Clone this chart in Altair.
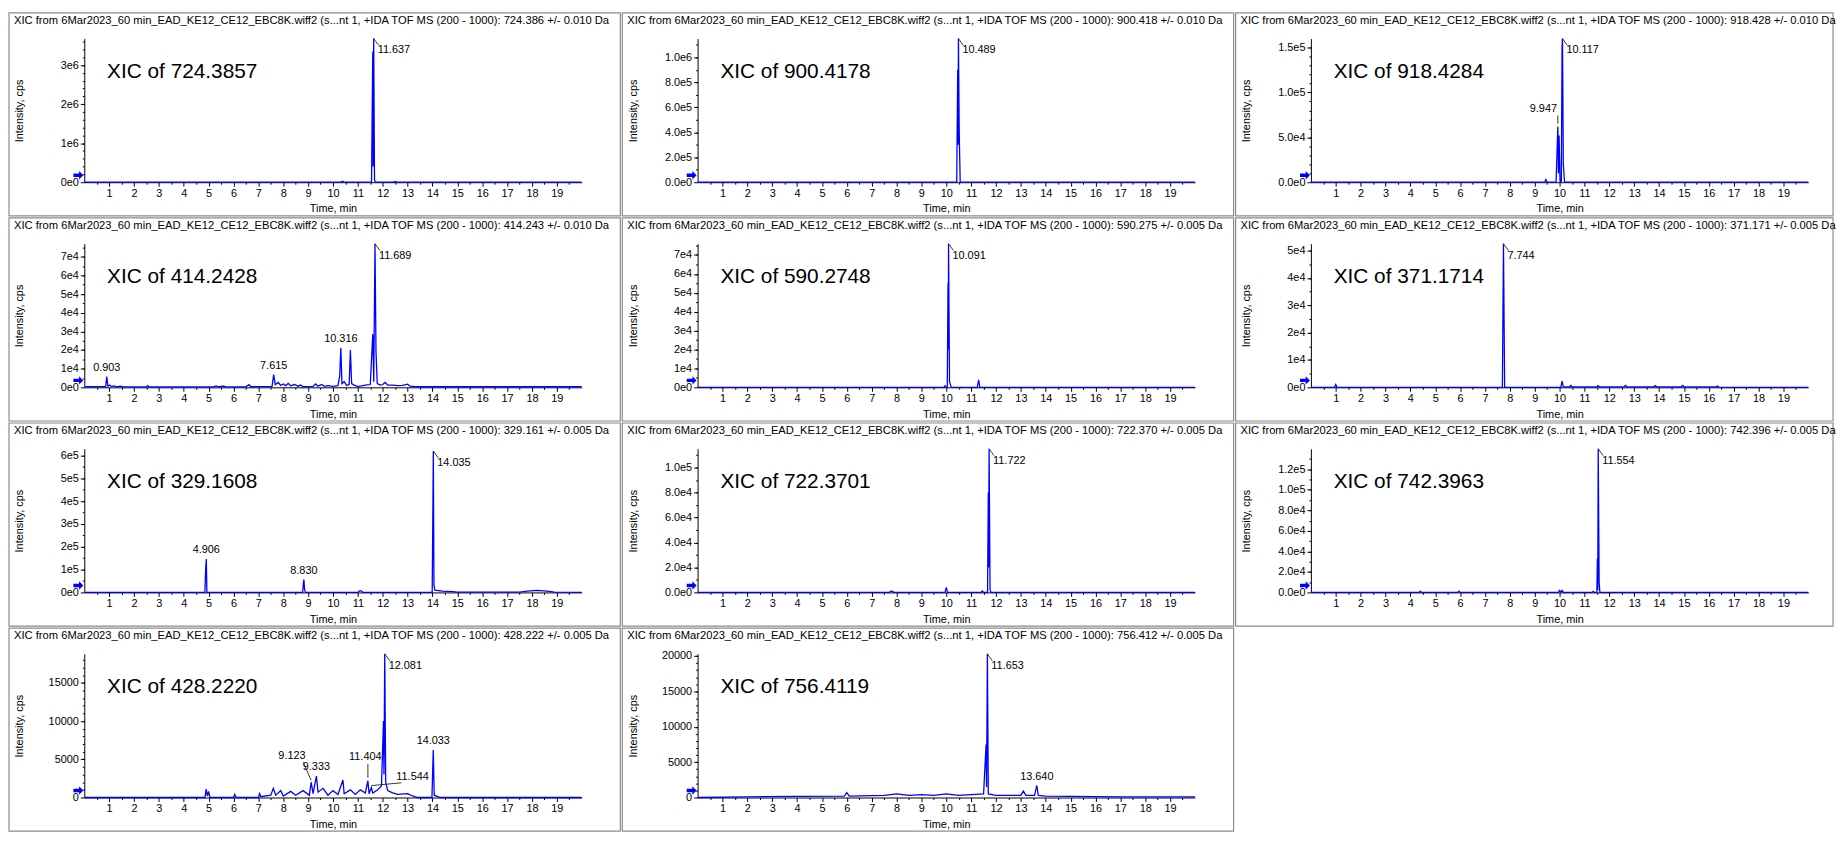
import altair as alt
import pandas as pd

FONT = "Liberation Sans"
SRC = "XIC from 6Mar2023_60 min_EAD_KE12_CE12_EBC8K.wiff2 (s...nt 1, +IDA TOF MS (200 - 1000): "

header_mz = ["724.386 +/- 0.010 Da", "900.418 +/- 0.010 Da", "918.428 +/- 0.010 Da",
             "414.243 +/- 0.010 Da", "590.275 +/- 0.005 Da", "371.171 +/- 0.005 Da",
             "329.161 +/- 0.005 Da", "722.370 +/- 0.005 Da", "742.396 +/- 0.005 Da",
             "428.222 +/- 0.005 Da", "756.412 +/- 0.005 Da"]
xic_mz = ["724.3857", "900.4178", "918.4284", "414.2428", "590.2748", "371.1714",
          "329.1608", "722.3701", "742.3963", "428.2220", "756.4119"]
y_max = [3.68e6, 1.15e6, 1.6e5, 7.7e4, 7.6e4, 5.25e4, 6.3e5, 1.15e5, 1.4e5, 18800, 20300]
y_ticks = [
    [0, 1e6, 2e6, 3e6],
    [0, 2e5, 4e5, 6e5, 8e5, 1e6],
    [0, 5e4, 1e5, 1.5e5],
    [0, 1e4, 2e4, 3e4, 4e4, 5e4, 6e4, 7e4],
    [0, 1e4, 2e4, 3e4, 4e4, 5e4, 6e4, 7e4],
    [0, 1e4, 2e4, 3e4, 4e4, 5e4],
    [0, 1e5, 2e5, 3e5, 4e5, 5e5, 6e5],
    [0, 2e4, 4e4, 6e4, 8e4, 1e5],
    [0, 2e4, 4e4, 6e4, 8e4, 1e5, 1.2e5],
    [0, 5000, 10000, 15000],
    [0, 5000, 10000, 15000, 20000],
]
y_style = ["e0", "e1", "e1", "e0", "e0", "e0", "e0", "e1", "e1", "int", "int"]
y_minor_div = [5, 2, 5, 2, 2, 2, 2, 2, 2, 5, 5]
x_labels = list(range(1, 20))

# chromatogram traces (time, intensity)
t_724 = [0, 10.3, 10.38, 10.46, 11.55, 11.60, 11.615, 11.637, 11.67, 11.72, 12.4, 12.5, 12.6, 20]
i_724 = [0, 0, 2.5e4, 0, 0, 3.35e6, 4.0e5, 3.68e6, 5e4, 0, 0, 1.2e4, 0, 0]

t_900 = [0, 10.42, 10.46, 10.475, 10.489, 10.52, 10.56, 20]
i_900 = [0, 0, 9.0e5, 3e5, 1.15e6, 4e5, 0, 0]

t_918 = [0, 9.4, 9.45, 9.5, 9.86, 9.93, 9.955, 9.98, 10.02, 10.07, 10.10, 10.117, 10.15, 10.2, 20]
i_918 = [0, 0, 3.0e3, 0, 0, 6.2e4, 1.0e4, 5.2e4, 0, 0, 1.5e5, 1.6e5, 2e4, 0, 0]

t_414 = [0, 0.1, 0.86, 0.903, 0.95, 1.02, 1.08, 1.2, 1.3, 1.45, 1.55, 2.5, 2.55, 2.6, 5.2, 5.3, 5.4,
         5.6, 5.7, 6.5, 6.62, 6.7, 7.55, 7.615, 7.68, 7.8, 7.9, 8.0, 8.1, 8.2, 8.3, 8.45, 8.6, 8.7,
         8.8, 9.2, 9.3, 9.4, 9.55, 9.65, 9.8, 10.0, 10.2, 10.27, 10.316, 10.36, 10.45, 10.55, 10.65,
         10.70, 10.75, 10.85, 11.0, 11.3, 11.5, 11.6, 11.64, 11.689, 11.73, 11.78, 11.9, 12.0, 12.1,
         12.2, 12.4, 12.6, 12.8, 13.0, 13.1, 13.3, 20]
i_414 = [0, 300, 400, 5800, 600, 1200, 500, 800, 300, 600, 200, 200, 900, 200, 200, 800, 300,
         600, 200, 300, 1400, 300, 500, 6800, 1500, 2600, 1000, 1800, 900, 2100, 800, 1500, 600, 1200,
         300, 500, 1800, 600, 1500, 500, 900, 500, 900, 6000, 21000, 2000, 3000, 1000, 1500,
         20000, 2000, 1200, 400, 1200, 1500, 28500, 3000, 77000, 19000, 2000, 1200, 1500, 2600,
         1200, 1200, 900, 1000, 1700, 600, 300, 300]

t_590 = [0, 9.9, 9.95, 10.0, 10.04, 10.07, 10.08, 10.091, 10.13, 10.2, 11.25, 11.3, 11.35, 20]
i_590 = [0, 0, 800, 0, 0, 5.5e4, 2e4, 7.6e4, 3000, 0, 0, 4000, 0, 0]

t_371 = [0, 0.95, 1.0, 1.05, 7.70, 7.744, 7.79, 10.05, 10.1, 10.15, 10.4, 10.45, 10.5, 11.5,
         11.55, 11.6, 12.6, 12.65, 12.7, 13.8, 13.85, 13.9, 14.9, 14.95, 15.0, 16.3, 16.35, 16.4,
         17.0, 20]
i_371 = [0, 0, 1000, 0, 0, 5.25e4, 0, 0, 2300, 200, 200, 700, 200, 200,
         600, 200, 200, 700, 200, 200, 600, 200, 200, 700, 200, 200, 500, 100,
         0, 0]

t_329 = [0, 4.85, 4.88, 4.906, 4.93, 8.78, 8.81, 8.83, 8.86, 8.9, 11.0, 11.08, 11.15, 11.2, 13.99,
         14.02, 14.035, 14.06, 14.1, 14.4, 14.8, 15.0, 17.5, 17.8, 18.2, 18.6, 18.9, 20]
i_329 = [0, 0, 1.0e5, 1.46e5, 0, 0, 4e4, 5.6e4, 1e4, 0, 0, 8000, 6000, 0, 0,
         4.0e5, 6.2e5, 3e4, 1e4, 6000, 3000, 1000, 1000, 6000, 9000, 6000, 1000, 0]

t_722 = [0, 7.7, 7.8, 7.9, 9.95, 10.0, 10.05, 11.4, 11.45, 11.5, 11.66, 11.69, 11.70, 11.722,
         11.76, 11.8, 20]
i_722 = [0, 0, 1200, 0, 0, 4000, 0, 0, 1200, 0, 0, 8.0e4, 2e4, 1.15e5, 2000, 0, 0]

t_742 = [0, 4.35, 4.4, 4.45, 5.9, 5.95, 6.0, 9.95, 10.0, 10.05, 10.1, 10.15, 11.3, 11.35, 11.4,
         11.5, 11.52, 11.535, 11.554, 11.59, 11.62, 20]
i_742 = [0, 0, 1200, 0, 0, 1200, 0, 0, 2000, 300, 2000, 0, 0, 1000, 0,
         0, 3.3e4, 2000, 1.4e5, 1e4, 0, 0]

t_428 = [0, 4.85, 4.9, 4.95, 5.0, 5.05, 6.0, 6.05, 6.1, 7.0, 7.05, 7.1, 7.5, 7.6, 7.7, 7.9, 8.0,
         8.3, 8.5, 8.8, 9.05, 9.123, 9.2, 9.333, 9.4, 9.6, 9.8, 10.0, 10.2, 10.4, 10.45, 10.7,
         10.9, 11.1, 11.3, 11.404, 11.45, 11.544, 11.6, 11.8, 11.95, 12.03, 12.05, 12.081, 12.12,
         12.2, 12.4, 12.6, 13.0, 13.2, 13.4, 13.98, 14.033, 14.07, 14.3, 20]
i_428 = [0, 0, 1100, 200, 800, 0, 0, 400, 0, 0, 500, 100, 300, 1200, 300, 900, 200,
         800, 300, 900, 300, 2000, 500, 2800, 700, 1200, 300, 900, 400, 2300, 500, 1000,
         400, 1000, 600, 2200, 500, 1300, 600, 1000, 1500, 10000, 3000, 18800, 2000,
         900, 600, 400, 500, 200, 0, 0, 6200, 300, 0, 0]

t_756 = [0, 2.0, 4.0, 5.9, 6.0, 6.1, 7.5, 8.0, 8.5, 9.0, 9.5, 10.0, 10.5, 11.0, 11.5, 11.6, 11.62,
         11.653, 11.69, 12.0, 13.0, 13.1, 13.2, 13.55, 13.64, 13.7, 14.0, 15, 17, 20]
i_756 = [0, 100, 150, 200, 700, 200, 300, 500, 300, 400, 300, 500, 300, 400, 500, 7500, 1500,
         20300, 500, 300, 300, 900, 300, 300, 1700, 300, 200, 150, 100, 100]

traces = [(t_724, i_724), (t_900, i_900), (t_918, i_918), (t_414, i_414), (t_590, i_590),
          (t_371, i_371), (t_329, i_329), (t_722, i_722), (t_742, i_742), (t_428, i_428),
          (t_756, i_756)]

# peak labels: text, peak time, peak height, kind, label time, label height
peak_labels = [
    [["11.637", 11.637, 3.68e6, "top", 0, 0]],
    [["10.489", 10.489, 1.15e6, "top", 0, 0]],
    [["10.117", 10.117, 1.6e5, "top", 0, 0], ["9.947", 9.93, 6.2e4, "cv", 9.35, 8.2e4]],
    [["11.689", 11.689, 7.7e4, "top", 0, 0], ["10.316", 10.316, 2.1e4, "c", 0, 0],
     ["7.615", 7.615, 6800, "c", 0, 0], ["0.903", 0.903, 5800, "c", 0, 0]],
    [["10.091", 10.091, 7.6e4, "top", 0, 0]],
    [["7.744", 7.744, 5.25e4, "top", 0, 0]],
    [["14.035", 14.035, 6.2e5, "top", 0, 0], ["4.906", 4.906, 1.46e5, "c", 0, 0],
     ["8.830", 8.83, 5.6e4, "c", 0, 0]],
    [["11.722", 11.722, 1.15e5, "top", 0, 0]],
    [["11.554", 11.554, 1.4e5, "top", 0, 0]],
    [["12.081", 12.081, 18800, "top", 0, 0], ["9.123", 9.123, 2000, "cd", 8.35, 5400],
     ["9.333", 9.333, 2800, "c", 0, 0], ["11.404", 11.404, 2200, "cv", 11.3, 5300],
     ["11.544", 11.544, 1300, "cd", 13.2, 2700], ["14.033", 14.033, 6200, "c", 0, 0]],
    [["11.653", 11.653, 20300, "top", 0, 0], ["13.640", 13.64, 1700, "c", 0, 0]],
]

grid_rows = [[0, 1, 2], [3, 4, 5], [6, 7, 8], [9, 10]]
col_widths = [617, 617, 603]

# layout
W, H = 502, 145
OX, OY = 76, 26
CH = 205
BLUE = "#0000ff"
ARROW = "M-1,-0.35L0.15,-0.35L0.15,-0.85L1,0L0.15,0.85L0.15,0.35L-1,0.35Z"


def label_expr(style):
    if style == "int":
        return "format(datum.value, 'd')"
    f = ".0f" if style == "e0" else ".1f"
    z = "0e0" if style == "e0" else "0.0e0"
    ex = "floor(log(datum.value) / LN10 + 1e-6)"
    return ("datum.value == 0 ? '%s' : format(datum.value / pow(10, %s), '%s') + 'e' + %s"
            % (z, ex, f, ex))


def make_panel(i, cw):
    ym = y_max[i]
    xs = alt.Scale(domain=[0, 20], nice=False, zero=False)
    ys = alt.Scale(domain=[0, ym], nice=False, zero=True)
    mt = 20.0 / W
    mv = ym / H
    one = pd.DataFrame({"z": [0]})
    tt, vv = traces[i]
    df = pd.DataFrame({"t": tt, "v": vv})

    frame = alt.Chart(one).mark_rect(fill="white", fillOpacity=0, stroke="#8c8c8c",
                                     strokeWidth=1.2).encode(
        x=alt.value(-OX), x2=alt.value(cw - OX), y=alt.value(-OY), y2=alt.value(CH - OY))
    header = alt.Chart(one).mark_text(text=SRC + header_mz[i], align="left", baseline="middle",
                                      font=FONT, fontSize=11.3, color="black").encode(
        x=alt.value(-OX + 5), y=alt.value(-OY + 8))
    xic = alt.Chart(one).mark_text(text="XIC of " + xic_mz[i], align="left", baseline="middle",
                                   font=FONT, fontSize=21, color="black").encode(
        x=alt.value(23), y=alt.value(34))
    arrow = alt.Chart(one).mark_point(shape=ARROW, filled=True, color=BLUE, size=100,
                                      opacity=1).encode(x=alt.value(-6), y=alt.value(H - 7))

    xaxis = alt.Axis(values=x_labels, format="d", title="Time, min", orient="bottom",
                     tickSize=4, labelPadding=1, titlePadding=5, grid=False, labelFlush=False,
                     labelOverlap=False, domainColor="black", tickColor="black",
                     labelColor="black", titleColor="black", labelFont=FONT, titleFont=FONT,
                     labelFontSize=11, titleFontSize=11, titleFontWeight="normal")
    yaxis = alt.Axis(values=y_ticks[i], labelExpr=label_expr(y_style[i]), title="Intensity, cps",
                     orient="left", tickSize=4, labelPadding=2, titlePadding=12, minExtent=48,
                     maxExtent=48, grid=False, labelOverlap=False, domainColor="black",
                     tickColor="black", labelColor="black", titleColor="black", labelFont=FONT,
                     titleFont=FONT, labelFontSize=11, titleFontSize=11, titleFontWeight="normal")
    trace = alt.Chart(df).mark_line(color=BLUE, strokeWidth=1.3).encode(
        x=alt.X("t:Q", scale=xs, axis=xaxis),
        y=alt.Y("v:Q", scale=ys, axis=yaxis),
        order=alt.Order("t:Q"))

    step = y_ticks[i][1] / y_minor_div[i]
    yminor = []
    k = 1
    while k * step < ym:
        yminor.append(k * step)
        k += 1
    xminor = [j + 0.5 for j in range(20)]
    minor = alt.Chart(df).mark_point(opacity=0, size=1).encode(
        x=alt.X("t:Q", scale=xs, title=None,
                axis=alt.Axis(values=xminor, labels=False, domain=False, tickSize=2,
                              grid=False, orient="bottom", tickColor="black")),
        y=alt.Y("v:Q", scale=ys, title=None,
                axis=alt.Axis(values=yminor, labels=False, domain=False, tickSize=2,
                              grid=False, orient="left", tickColor="black")))

    tops, cents, offs, rules = [], [], [], []
    for txt, t, h, kind, lt, lh in peak_labels[i]:
        if kind == "top":
            tops.append({"t": t, "h": h, "txt": txt})
            rules.append({"a": t, "b": h, "a2": t + 5 * mt, "b2": h - 7 * mv})
        elif kind == "c":
            cents.append({"t": t, "h": h, "txt": txt})
        elif kind == "cv":
            offs.append({"t": lt, "h": lh, "txt": txt})
            rules.append({"a": t, "b": h + 3 * mv, "a2": t, "b2": lh - 7 * mv})
        else:
            offs.append({"t": lt, "h": lh, "txt": txt})
            side = 1 if t > lt else -1
            rules.append({"a": t, "b": h + 2 * mv, "a2": lt + side * 0.45, "b2": lh - 6 * mv})

    def enc(ch):
        return ch.encode(x=alt.X("t:Q", scale=xs, axis=None), y=alt.Y("h:Q", scale=ys, axis=None),
                         text="txt:N")

    layers = [frame, header, xic, trace, minor]
    if tops:
        layers.append(enc(alt.Chart(pd.DataFrame(tops)).mark_text(
            align="left", baseline="middle", dx=4, dy=12, font=FONT, fontSize=11, color="black")))
    if cents:
        layers.append(enc(alt.Chart(pd.DataFrame(cents)).mark_text(
            align="center", baseline="bottom", dy=-4, font=FONT, fontSize=11, color="black")))
    if offs:
        layers.append(enc(alt.Chart(pd.DataFrame(offs)).mark_text(
            align="center", baseline="middle", font=FONT, fontSize=11, color="black")))
    if rules:
        layers.append(alt.Chart(pd.DataFrame(rules)).mark_rule(color="#222222", strokeWidth=0.9).encode(
            x=alt.X("a:Q", scale=xs, axis=None), y=alt.Y("b:Q", scale=ys, axis=None),
            x2="a2:Q", y2="b2:Q"))
    layers.append(arrow)
    return alt.layer(*layers).properties(width=W, height=H).resolve_axis(
        x="independent", y="independent")


rows = [alt.hconcat(*[make_panel(i, col_widths[c]) for c, i in enumerate(r)], spacing=0)
        for r in grid_rows]
chart = alt.vconcat(*rows, spacing=0).properties(
    padding={"left": 0, "top": 0, "right": 0, "bottom": 0}, background="white"
).configure_view(strokeWidth=0)

chart.save("out.html", embed_options={"renderer": "svg", "actions": False})
